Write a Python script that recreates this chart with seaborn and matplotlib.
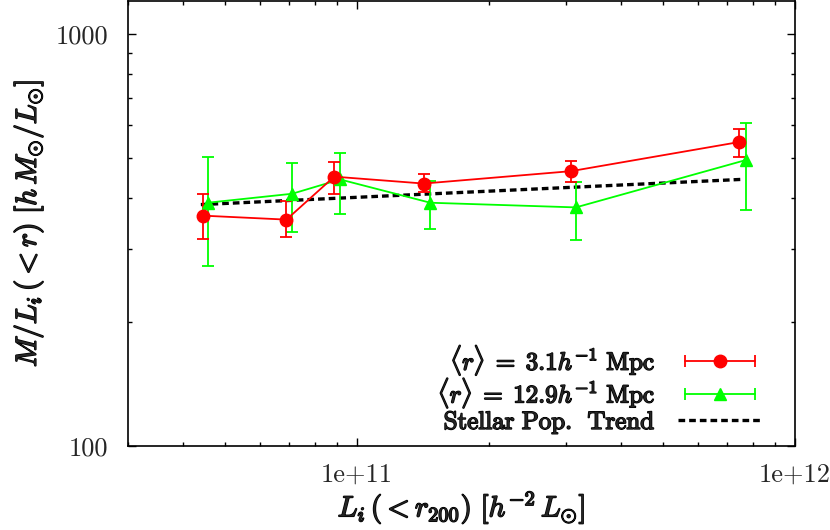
import numpy as np
import pandas as pd
import seaborn as sns
import matplotlib
matplotlib.use("Agg")
import matplotlib.pyplot as plt
import matplotlib.patheffects as pe
from matplotlib.ticker import FixedLocator, FixedFormatter, LogLocator, NullFormatter
from matplotlib.lines import Line2D
from matplotlib.legend_handler import HandlerLine2D, HandlerTuple

# data
lum_r3 = [4.44e10, 6.9e10, 8.87e10, 1.42e11, 3.08e11, 7.46e11]
ml_r3 = [362, 354, 450, 433, 464, 546]
ml_r3_lo = [317, 321, 409, 414, 437, 502]
ml_r3_hi = [409, 392, 489, 457, 491, 587]

lum_r13 = [4.56e10, 7.11e10, 9.15e10, 1.47e11, 3.16e11, 7.74e11]
ml_r13 = [389, 409, 443, 389, 379, 494]
ml_r13_lo = [273, 330, 366, 335, 316, 374]
ml_r13_hi = [502, 486, 514, 440, 437, 607]

trend_lum = [4.4e10, 7.5e11]
trend_ml = [385, 443]

labels = [r"$\langle r\rangle\;=\;3.1h^{-1}\ \mathrm{Mpc}$",
          r"$\langle r\rangle\;=\;12.9h^{-1}\ \mathrm{Mpc}$",
          r"$\mathrm{Stellar\ Pop.\ \,Trend}$"]

sns.set_style("ticks")
plt.rcParams["font.family"] = "serif"
plt.rcParams["font.serif"] = ["cmr10", "DejaVu Serif"]
plt.rcParams["mathtext.fontset"] = "cm"
plt.rcParams["axes.unicode_minus"] = False

# fake bold: stroke the glyph outlines
bold = [pe.withStroke(linewidth=1.1, foreground="black")]

fig = plt.figure(figsize=(8.3, 5.3), dpi=100)
ax = fig.add_axes([128 / 830, 84 / 530, 667 / 830, 445 / 530])

# trend line via seaborn
trend = pd.DataFrame({"lum": trend_lum, "ml": trend_ml})
sns.lineplot(data=trend, x="lum", y="ml", ax=ax, color="black", lw=2.4,
             linestyle=(0, (2.0, 1.2)), legend=False)

r3_err = [np.array(ml_r3) - np.array(ml_r3_lo), np.array(ml_r3_hi) - np.array(ml_r3)]
r13_err = [np.array(ml_r13) - np.array(ml_r13_lo), np.array(ml_r13_hi) - np.array(ml_r13)]

ax.errorbar(lum_r13, ml_r13, yerr=r13_err, color="#00ff00", lw=1.3, elinewidth=1.3,
            capsize=4, capthick=1.3, marker="^", ms=8.5)
ax.errorbar(lum_r3, ml_r3, yerr=r3_err, color="#ff0000", lw=1.3, elinewidth=1.3,
            capsize=4, capthick=1.3, marker="o", ms=9)

ax.set_xscale("log")
ax.set_yscale("log")
ax.set_xlim(3.0e10, 1.0e12)
ax.set_ylim(100, 1200)

ax.xaxis.set_major_locator(FixedLocator([1e11, 1e12]))
ax.xaxis.set_major_formatter(FixedFormatter(["1e+11", "1e+12"]))
ax.yaxis.set_major_locator(FixedLocator([100, 1000]))
ax.yaxis.set_major_formatter(FixedFormatter(["100", "1000"]))
ax.xaxis.set_minor_locator(LogLocator(base=10, subs=np.arange(2, 10)))
ax.yaxis.set_minor_locator(LogLocator(base=10, subs=np.arange(2, 10)))
ax.xaxis.set_minor_formatter(NullFormatter())
ax.yaxis.set_minor_formatter(NullFormatter())

ax.tick_params(which="both", direction="in", top=True, right=True, width=1.0,
               labelsize=19, color="black")
ax.tick_params(which="major", length=6)
ax.tick_params(which="minor", length=3)
ax.tick_params(axis="x", pad=12)
ax.tick_params(axis="y", pad=14)
for s in ax.spines.values():
    s.set_linewidth(1.2)
    s.set_color("black")

ax.set_xlabel(r"$L_i\,(<r_{200})\ [h^{-2}\,L_{\odot}]$", fontsize=21, labelpad=2,
              path_effects=bold)
ax.set_ylabel(r"$M/L_i\,(<r)\ [h\,M_{\odot}/L_{\odot}]$", fontsize=21, labelpad=8,
              path_effects=bold)

# legend handles drawn like gnuplot: bar with end caps and a marker
h_red_bar = Line2D([], [], color="#ff0000", lw=1.3, marker="|", ms=9, mew=1.3)
h_red_mk = Line2D([], [], color="#ff0000", lw=0, marker="o", ms=9)
h_grn_bar = Line2D([], [], color="#00ff00", lw=1.3, marker="|", ms=9, mew=1.3)
h_grn_mk = Line2D([], [], color="#00ff00", lw=0, marker="^", ms=8.5)
h_trend = Line2D([], [], color="black", lw=2.4, linestyle=(0, (2.0, 1.2)))
hmap = {h_red_bar: HandlerLine2D(numpoints=2), h_grn_bar: HandlerLine2D(numpoints=2),
        h_red_mk: HandlerLine2D(numpoints=1), h_grn_mk: HandlerLine2D(numpoints=1),
        tuple: HandlerTuple(ndivide=1, pad=0)}
leg = ax.legend([(h_red_bar, h_red_mk), (h_grn_bar, h_grn_mk), h_trend], labels,
                loc="lower right", bbox_to_anchor=(0.967, 0.0),
                markerfirst=False, frameon=False, fontsize=18,
                handlelength=3.4, handletextpad=0.9, labelspacing=-0.05,
                borderaxespad=0.0, handler_map=hmap)
for t in leg.get_texts():
    t.set_path_effects(bold)

fig.savefig("out.png", dpi=100)
